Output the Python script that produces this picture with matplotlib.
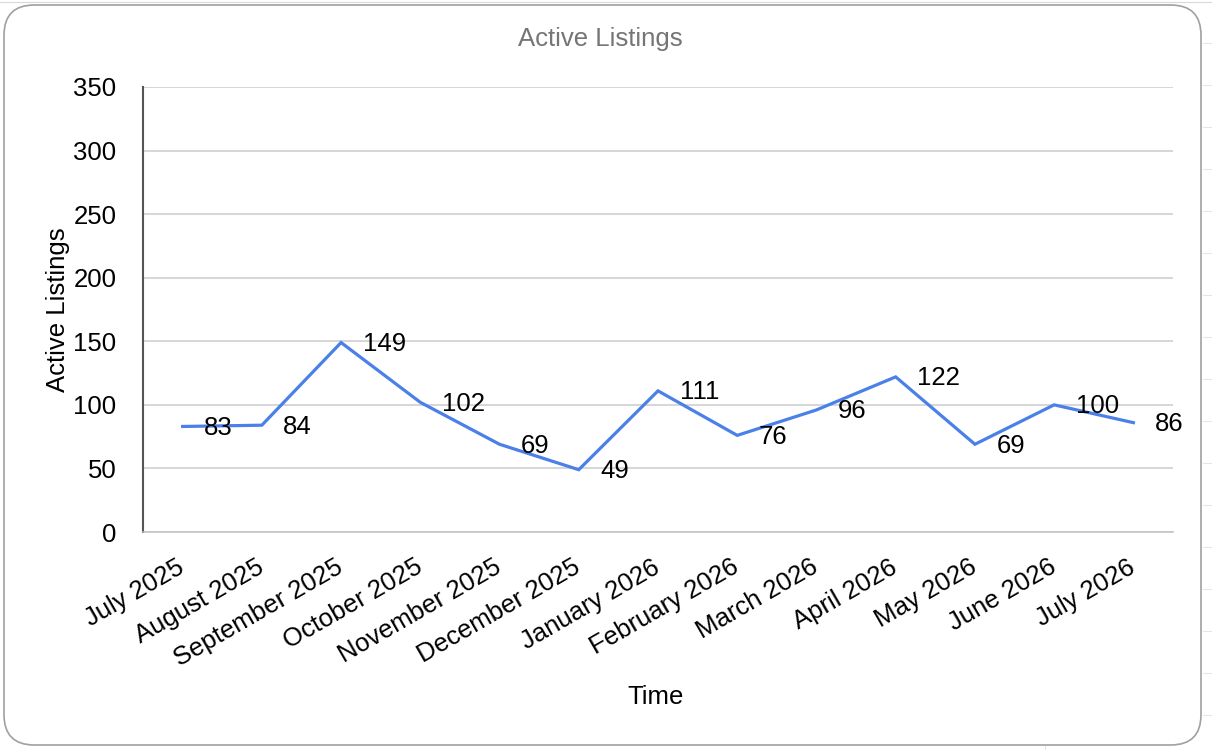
import matplotlib.pyplot as plt
from matplotlib.patches import FancyBboxPatch
from matplotlib.lines import Line2D

months = ['July 2025', 'August 2025', 'September 2025', 'October 2025',
          'November 2025', 'December 2025', 'January 2026', 'February 2026',
          'March 2026', 'April 2026', 'May 2026', 'June 2026', 'July 2026']
listings = [83, 84, 149, 102, 69, 49, 111, 76, 96, 122, 69, 100, 86]
yticks = [0, 50, 100, 150, 200, 250, 300, 350]

plt.rcParams['font.family'] = ['Liberation Sans', 'DejaVu Sans']
FS = 18.5
W, H = 1212, 750

fig = plt.figure(figsize=(W / 100, H / 100), dpi=100)

# faint spreadsheet cells behind the chart card
for yy in range(43, 750, 42):
    fig.add_artist(Line2D([1203 / W, 1.0], [1 - yy / H] * 2, color='#e6e6e6',
                          lw=0.8, zorder=-20))
fig.add_artist(Line2D([0.0, 1.0], [1 - 1.5 / H] * 2, color='#d9d9d9', lw=0.8, zorder=-20))
for xx in [1045]:
    fig.add_artist(Line2D([xx / W] * 2, [0.0, 4 / H], color='#e6e6e6', lw=0.8, zorder=-20))

# rounded card border
card = FancyBboxPatch((4 / W, 5 / H), 1197 / W, 740 / H,
                      boxstyle='round,pad=0,rounding_size=0.025',
                      transform=fig.transFigure, facecolor='white',
                      edgecolor='#a0a0a0', lw=1.2, mutation_aspect=W / H,
                      zorder=-10)
fig.add_artist(card)

ax = fig.add_axes([143 / W, 1 - 532 / H, 1030 / W, 445 / H])
ax.set_facecolor('none')
x = list(range(len(months)))
ax.plot(x, listings, color='#4a80e8', lw=2.3, solid_joinstyle='miter', zorder=3)

for i, v in zip(x, listings):
    ax.annotate(str(v), (i, v), xytext=(15.5, -1), textcoords='offset points',
                ha='left', va='center', fontsize=FS, color='black', zorder=4)

ax.set_xlim(-0.5, len(months) - 0.5)
ax.set_ylim(0, 350)
ax.set_yticks(yticks)
ax.set_yticklabels([str(t) for t in yticks], fontsize=FS)
ax.set_xticks(x)
ax.set_xticklabels(months, rotation=30, ha='right', va='center',
                   rotation_mode='anchor', fontsize=FS)
ax.tick_params(axis='y', length=0, pad=19)
ax.tick_params(axis='x', length=0, pad=24)
ax.grid(axis='y', color='#cccccc', lw=1.1)
ax.set_axisbelow(True)
for s in ['top', 'right']:
    ax.spines[s].set_visible(False)
ax.spines['left'].set_color('#555555')
ax.spines['left'].set_linewidth(1.5)
ax.spines['bottom'].set_color('#c0c0c0')
ax.spines['bottom'].set_linewidth(1.1)

fig.text(600 / W, 1 - 39 / H, 'Active Listings', ha='center', va='center',
         fontsize=FS, color='#757575')
fig.text(656 / W, 1 - 697 / H, 'Time', ha='center', va='center', fontsize=FS)
fig.text(58 / W, 1 - 310 / H, 'Active Listings', ha='center', va='center',
         rotation=90, fontsize=FS)

fig.savefig('out.png', dpi=100)
